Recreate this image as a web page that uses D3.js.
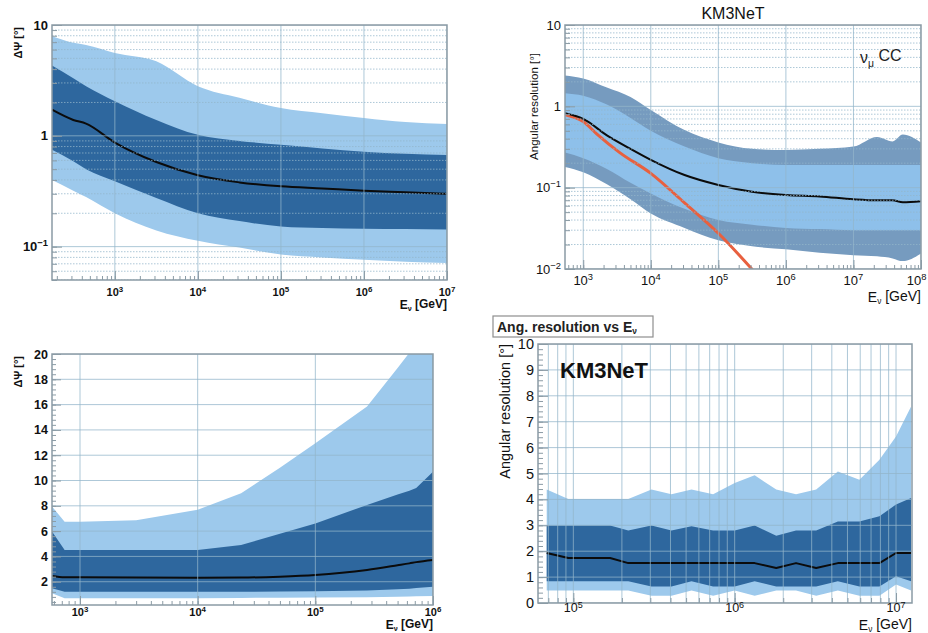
<!DOCTYPE html>
<html><head><meta charset="utf-8">
<script src="https://cdn.jsdelivr.net/npm/d3@7"></script>
<style>body{margin:0;background:#fff}svg text{font-family:"Liberation Sans",Arial,sans-serif}</style>
</head><body>
<svg id="c" width="928" height="633"></svg>
<script>
// ---------- Panel 1 (top-left) ----------
const p1Energy   = [175, 316, 450, 1000, 3160, 1e4, 3.16e4, 1e5, 3.16e5, 1e6, 3.16e6, 1e7];
const p1Median   = [1.72, 1.39, 1.29, 0.87, 0.58, 0.44, 0.38, 0.35, 0.335, 0.32, 0.31, 0.30];
const p1DarkHi   = [4.3, 3.3, 2.8, 2.05, 1.39, 1.02, 0.9, 0.83, 0.77, 0.72, 0.69, 0.67];
const p1DarkLo   = [0.75, 0.59, 0.5, 0.39, 0.275, 0.2, 0.17, 0.152, 0.147, 0.145, 0.144, 0.143];
const p1LightHi  = [7.9, 6.9, 6.6, 5.6, 4.7, 2.8, 2.2, 1.78, 1.6, 1.45, 1.33, 1.28];
const p1LightLo  = [0.40, 0.32, 0.28, 0.20, 0.14, 0.113, 0.098, 0.085, 0.08, 0.076, 0.073, 0.071];
const p1XTicks   = [3, 4, 5, 6, 7];
const p1YTicks   = [{v:10, t:"10"}, {v:1, t:"1"}, {v:0.1, t:"10", e:"−1"}];

// ---------- Panel 2 (top-right) ----------
const p2Energy   = [537, 1000, 2240, 5010, 1e4, 3.16e4, 1e5, 3.16e5, 1e6, 3.16e6, 1e7, 2.24e7, 3.8e7, 5.37e7, 1e8];
const p2OuterHi  = [2.4, 2.2, 1.7, 1.3, 0.9, 0.51, 0.36, 0.30, 0.29, 0.30, 0.32, 0.42, 0.37, 0.45, 0.36];
const p2InnerHi  = [1.45, 1.35, 1.05, 0.72, 0.5, 0.32, 0.23, 0.20, 0.19, 0.19, 0.19, 0.19, 0.19, 0.19, 0.19];
const p2Median   = [0.82, 0.70, 0.44, 0.30, 0.22, 0.143, 0.108, 0.089, 0.081, 0.078, 0.072, 0.070, 0.070, 0.066, 0.068];
const p2InnerLo  = [0.27, 0.23, 0.17, 0.115, 0.085, 0.055, 0.04, 0.035, 0.032, 0.031, 0.03, 0.03, 0.03, 0.03, 0.03];
const p2OuterLo  = [0.18, 0.155, 0.11, 0.072, 0.048, 0.032, 0.0225, 0.019, 0.0175, 0.0158, 0.0148, 0.0143, 0.0135, 0.0125, 0.0155];
const p2RedEnergy= [537, 1000, 1580, 3470, 1e4, 3.16e4, 1e5, 3.2e5];
const p2Red      = [0.79, 0.65, 0.46, 0.27, 0.15, 0.065, 0.0275, 0.0098];
const p2XTicks   = [3, 4, 5, 6, 7, 8];
const p2YTicks   = [{v:10, t:"10"}, {v:1, t:"1"}, {v:0.1, t:"10", e:"−1"}, {v:0.01, t:"10", e:"−2"}];

// ---------- Panel 3 (bottom-left) ----------
const p3Energy   = [578, 740, 1000, 3000, 1e4, 2.34e4, 5e4, 1e5, 2.75e5, 5e5, 6.3e5, 7.2e5, 1e6];
const p3LightHi  = [7.94, 6.75, 6.75, 6.85, 7.68, 9.0, 11.0, 12.95, 15.86, 18.9, 20.1, 21.2, 23];
const p3DarkHi   = [5.96, 4.5, 4.5, 4.5, 4.5, 4.9, 5.8, 6.6, 8.07, 8.9, 9.2, 9.4, 10.7];
const p3Median   = [2.45, 2.35, 2.35, 2.33, 2.32, 2.33, 2.4, 2.53, 2.93, 3.3, 3.45, 3.55, 3.72];
const p3DarkLo   = [1.48, 1.2, 1.2, 1.2, 1.2, 1.2, 1.22, 1.25, 1.3, 1.4, 1.45, 1.5, 1.6];
const p3LightLo  = [1.08, 0.69, 0.69, 0.7, 0.7, 0.72, 0.73, 0.75, 0.78, 0.82, 0.84, 0.85, 0.87];
const p3XTicks   = [3, 4, 5, 6];
const p3YTicks   = [2, 4, 6, 8, 10, 12, 14, 16, 18, 20];

// ---------- Panel 4 (bottom-right) ----------
const p4Energy   = [6.84e4, 9.31e4, 1.69e5, 2.19e5, 3.05e5, 4.06e5, 5.40e5, 7.35e5, 1e6, 1.33e6, 1.81e6, 2.40e6, 3.20e6, 4.36e6, 5.93e6, 7.89e6, 1e7, 1.24e7];
const p4LightHi  = [4.38, 4.02, 4.02, 4.02, 4.38, 4.2, 4.38, 4.2, 4.63, 4.93, 4.38, 4.2, 4.38, 5.08, 4.76, 5.53, 6.43, 7.59];
const p4DarkHi   = [2.99, 2.99, 2.99, 2.8, 2.99, 2.8, 2.96, 2.8, 2.8, 2.99, 2.6, 2.8, 2.8, 3.15, 3.15, 3.35, 3.8, 4.05];
const p4Median   = [1.93, 1.74, 1.74, 1.54, 1.54, 1.54, 1.54, 1.54, 1.54, 1.54, 1.35, 1.54, 1.35, 1.54, 1.54, 1.54, 1.93, 1.93];
const p4DarkLo   = [0.84, 0.84, 0.84, 0.84, 0.64, 0.64, 0.84, 0.64, 0.64, 0.84, 0.64, 0.64, 0.64, 0.84, 0.64, 0.64, 1.03, 0.84];
const p4LightLo  = [0.48, 0.48, 0.48, 0.48, 0.28, 0.28, 0.48, 0.28, 0.48, 0.28, 0.48, 0.48, 0.28, 0.48, 0.28, 0.28, 0.71, 0.48];
const p4XTicks   = [5, 6, 7];
const p4YTicks   = [0, 1, 2, 3, 4, 5, 6, 7, 8, 9, 10];

// ---------- styles ----------
const LIGHT = "#9dc9ec", DARK = "#2e679e";
const P2OUTER = "#769bbf", P2INNER = "#8ec0ea";
const FRAME = "#8b9ba5", GRID = "#93b6cb";

const svg = d3.select("#c");
let clipN = 0;

function makePanel(c){
  const x = d3.scaleLog().domain(c.xDomain).range([c.left, c.right]);
  const y = (c.yLog ? d3.scaleLog() : d3.scaleLinear()).domain(c.yDomain).range([c.bottom, c.top]);
  const id = "clip" + (clipN++);
  svg.append("clipPath").attr("id", id).append("rect")
    .attr("x", c.left).attr("y", c.top).attr("width", c.right - c.left).attr("height", c.bottom - c.top);
  const g = svg.append("g");
  const plot = g.append("g").attr("clip-path", `url(#${id})`);
  return Object.assign({}, c, {x, y, g, plot});
}
function logVals(domain, majorOnly){
  const out = [];
  const a = Math.floor(Math.log10(domain[0])), b = Math.ceil(Math.log10(domain[1]));
  for (let k = a; k <= b; k++) for (let m = 1; m < 10; m++){
    if (majorOnly && m !== 1) continue;
    const v = m * Math.pow(10, k);
    if (v >= domain[0] * 0.999 && v <= domain[1] * 1.001) out.push(v);
  }
  return out;
}
function band(p, E, lo, hi, color, curve){
  const data = E.map((e, i) => ({e, lo: lo[i], hi: hi[i]}));
  p.plot.append("path").datum(data).attr("fill", color)
    .attr("d", d3.area().x(d => p.x(d.e)).y0(d => p.y(d.lo)).y1(d => p.y(d.hi)).curve(curve));
}
function line(p, E, v, color, w, curve){
  const data = E.map((e, i) => ({e, v: v[i]}));
  p.plot.append("path").datum(data).attr("fill", "none").attr("stroke", color)
    .attr("stroke-width", w).attr("stroke-linejoin", "round")
    .attr("d", d3.line().x(d => p.x(d.e)).y(d => p.y(d.v)).curve(curve));
}
function vGrid(p, vals, dashed){
  p.plot.append("g").selectAll("line").data(vals).join("line")
    .attr("x1", d => p.x(d)).attr("x2", d => p.x(d)).attr("y1", p.top).attr("y2", p.bottom)
    .attr("stroke", GRID).attr("stroke-width", 1).attr("opacity", 0.75)
    .attr("stroke-dasharray", dashed ? "1.5,1.5" : null);
}
function hGrid(p, vals, dashed){
  p.plot.append("g").selectAll("line").data(vals).join("line")
    .attr("y1", d => p.y(d)).attr("y2", d => p.y(d)).attr("x1", p.left).attr("x2", p.right)
    .attr("stroke", GRID).attr("stroke-width", 1).attr("opacity", 0.75)
    .attr("stroke-dasharray", dashed ? "1.5,1.5" : null);
}
function frame(p){
  p.g.append("rect").attr("x", p.left).attr("y", p.top)
    .attr("width", p.right - p.left).attr("height", p.bottom - p.top)
    .attr("fill", "none").attr("stroke", FRAME).attr("stroke-width", 1.5);
}
function ticks(p, axisFn, scale, vals, size, pos){
  const a = axisFn(scale).tickValues(vals).tickSize(-size).tickFormat("");
  const gg = p.g.append("g").attr("transform", pos).call(a);
  gg.select(".domain").remove();
  gg.selectAll("line").attr("stroke", FRAME).attr("stroke-width", 1);
}
function powLabel(sel, base, exp, supScale){
  sel.append("tspan").text(base);
  if (exp !== undefined) sel.append("tspan").attr("dy", "-0.5em").attr("font-size", (supScale || 0.72) + "em").text(exp);
}
function xPowLabels(p, exps, yBase, size, weight, maxRight){
  exps.forEach(k => {
    let cx = p.x(Math.pow(10, k));
    const halfW = size * 0.8;
    if (maxRight !== undefined && cx + halfW > maxRight) cx = maxRight - halfW;
    const t = p.g.append("text").attr("x", cx).attr("y", yBase)
      .attr("text-anchor", "middle").attr("font-size", size).attr("font-weight", weight).attr("fill", "#111");
    powLabel(t, "10", String(k));
  });
}
function energyTitle(p, yBase, size, weight){
  const t = p.g.append("text").attr("x", p.right).attr("y", yBase).attr("text-anchor", "end")
    .attr("font-size", size).attr("font-weight", weight).attr("fill", "#111");
  t.append("tspan").text("E");
  t.append("tspan").attr("dy", "0.25em").attr("font-size", "0.6em").text("ν");
  t.append("tspan").attr("dy", "-0.25em").text(" [GeV]");
}
function yTitle(x, y, txt, size, weight){
  svg.append("text").attr("transform", `translate(${x},${y}) rotate(-90)`).attr("text-anchor", "end")
    .attr("font-size", size).attr("font-weight", weight).attr("fill", "#111").text(txt);
}

// ===== Panel 1 =====
{
  const p = makePanel({left:52, right:447, top:25, bottom:280, xDomain:[175, 1e7], yDomain:[0.05, 10], yLog:true});
  const cv = d3.curveMonotoneX;
  band(p, p1Energy, p1LightLo, p1LightHi, LIGHT, cv);
  band(p, p1Energy, p1DarkLo, p1DarkHi, DARK, cv);
  line(p, p1Energy, p1Median, "#0b0b0b", 2, cv);
  vGrid(p, logVals(p.xDomain, true), false);
  hGrid(p, logVals(p.yDomain, false).filter(v => !logVals(p.yDomain, true).includes(v)), true);
  hGrid(p, logVals(p.yDomain, true), false);
  frame(p);
  ticks(p, d3.axisBottom, p.x, logVals(p.xDomain, false), 4, `translate(0,${p.bottom})`);
  ticks(p, d3.axisBottom, p.x, logVals(p.xDomain, true), 9, `translate(0,${p.bottom})`);
  ticks(p, d3.axisLeft, p.y, logVals(p.yDomain, false), 5, `translate(${p.left},0)`);
  ticks(p, d3.axisLeft, p.y, logVals(p.yDomain, true), 10, `translate(${p.left},0)`);
  xPowLabels(p, p1XTicks, 296, 11, "bold");
  p1YTicks.forEach(d => {
    const t = p.g.append("text").attr("x", 48).attr("y", p.y(d.v) + 4.5).attr("text-anchor", "end")
      .attr("font-size", 13).attr("font-weight", "bold").attr("fill", "#111");
    powLabel(t, d.t, d.e);
  });
  energyTitle(p, 309, 12, "bold");
  yTitle(22, 27, "ΔΨ [°]", 11, "bold");
}

// ===== Panel 2 =====
{
  const p = makePanel({left:565, right:921, top:25, bottom:269, xDomain:[537, 1e8], yDomain:[0.01, 10], yLog:true});
  const cv = d3.curveMonotoneX;
  band(p, p2Energy, p2OuterLo, p2OuterHi, P2OUTER, cv);
  band(p, p2Energy, p2InnerLo, p2InnerHi, P2INNER, cv);
  line(p, p2RedEnergy, p2Red, "#e8603f", 3, cv);
  line(p, p2Energy, p2Median, "#0b0b0b", 2, cv);
  vGrid(p, logVals(p.xDomain, true), false);
  hGrid(p, logVals(p.yDomain, false).filter(v => !logVals(p.yDomain, true).includes(v)), true);
  hGrid(p, logVals(p.yDomain, true), false);
  frame(p);
  ticks(p, d3.axisBottom, p.x, logVals(p.xDomain, false), 4, `translate(0,${p.bottom})`);
  ticks(p, d3.axisBottom, p.x, logVals(p.xDomain, true), 9, `translate(0,${p.bottom})`);
  ticks(p, d3.axisLeft, p.y, logVals(p.yDomain, false), 5, `translate(${p.left},0)`);
  ticks(p, d3.axisLeft, p.y, logVals(p.yDomain, true), 10, `translate(${p.left},0)`);
  xPowLabels(p, p2XTicks, 285, 13, "normal", 927);
  p2YTicks.forEach(d => {
    const t = p.g.append("text").attr("x", 561).attr("y", p.y(d.v) + 4.5).attr("text-anchor", "end")
      .attr("font-size", 13).attr("fill", "#111");
    powLabel(t, d.t, d.e);
  });
  energyTitle(p, 302, 14, "normal");
  yTitle(538, 53, "Angular resolution [°]", 11.5, "normal");
  svg.append("text").attr("x", 733).attr("y", 19).attr("text-anchor", "middle")
    .attr("font-size", 16).attr("fill", "#111").text("KM3NeT");
  const nu = svg.append("text").attr("x", 860).attr("y", 63).attr("font-size", 16).attr("fill", "#222");
  nu.append("tspan").text("ν");
  nu.append("tspan").attr("dy", "0.35em").attr("font-size", "0.65em").text("μ");
  nu.append("tspan").attr("dy", "-0.35em").text(" CC");
}

// ===== Panel 3 =====
{
  const p = makePanel({left:52, right:433, top:354, bottom:605, xDomain:[578, 1e6], yDomain:[0.16, 20], yLog:false});
  const cv = d3.curveMonotoneX;
  band(p, p3Energy, p3LightLo, p3LightHi, LIGHT, d3.curveLinear);
  band(p, p3Energy, p3DarkLo, p3DarkHi, DARK, d3.curveLinear);
  line(p, p3Energy, p3Median, "#0b0b0b", 2, cv);
  vGrid(p, logVals(p.xDomain, true), false);
  hGrid(p, p3YTicks, false);
  frame(p);
  ticks(p, d3.axisBottom, p.x, logVals(p.xDomain, false), 4, `translate(0,${p.bottom})`);
  ticks(p, d3.axisBottom, p.x, logVals(p.xDomain, true), 9, `translate(0,${p.bottom})`);
  ticks(p, d3.axisLeft, p.y, d3.range(0.4, 20.01, 0.4), 4, `translate(${p.left},0)`);
  ticks(p, d3.axisLeft, p.y, p3YTicks, 9, `translate(${p.left},0)`);
  xPowLabels(p, p3XTicks, 616, 11, "bold");
  p3YTicks.forEach(v => {
    p.g.append("text").attr("x", 48).attr("y", p.y(v) + 4.5).attr("text-anchor", "end")
      .attr("font-size", 12.5).attr("font-weight", "bold").attr("fill", "#111").text(v);
  });
  energyTitle(p, 629, 12, "bold");
  yTitle(22, 356, "ΔΨ [°]", 11, "bold");
}

// ===== Panel 4 =====
{
  const p = makePanel({left:538, right:912, top:344, bottom:603, xDomain:[6.04e4, 1.256e7], yDomain:[0, 10], yLog:false});
  const cv = d3.curveLinear;
  band(p, p4Energy, p4LightLo, p4LightHi, LIGHT, cv);
  band(p, p4Energy, p4DarkLo, p4DarkHi, DARK, cv);
  line(p, p4Energy, p4Median, "#0b0b0b", 2, cv);
  vGrid(p, logVals(p.xDomain, false), false);
  hGrid(p, p4YTicks, false);
  frame(p);
  ticks(p, d3.axisBottom, p.x, logVals(p.xDomain, false), 5, `translate(0,${p.bottom})`);
  ticks(p, d3.axisBottom, p.x, logVals(p.xDomain, true), 10, `translate(0,${p.bottom})`);
  ticks(p, d3.axisLeft, p.y, d3.range(0, 10.01, 0.2), 5, `translate(${p.left},0)`);
  ticks(p, d3.axisLeft, p.y, p4YTicks, 10, `translate(${p.left},0)`);
  xPowLabels(p, p4XTicks, 612, 12.5, "normal");
  p4YTicks.forEach(v => {
    p.g.append("text").attr("x", 534).attr("y", p.y(v) + 5).attr("text-anchor", "end")
      .attr("font-size", 14.5).attr("fill", "#111").text(v);
  });
  energyTitle(p, 630, 14, "normal");
  yTitle(510, 344, "Angular resolution [°]", 14.5, "normal");
  svg.append("text").attr("x", 560).attr("y", 378).attr("font-size", 22).attr("font-weight", "bold")
    .attr("fill", "#111").text("KM3NeT");
  svg.append("rect").attr("x", 493).attr("y", 316).attr("width", 160).attr("height", 21)
    .attr("fill", "#fff").attr("stroke", "#8e8e8e").attr("stroke-width", 1.2);
  const t = svg.append("text").attr("x", 497).attr("y", 331.5).attr("font-size", 14)
    .attr("font-weight", "bold").attr("fill", "#222");
  t.append("tspan").text("Ang. resolution vs E");
  t.append("tspan").attr("dy", "0.3em").attr("font-size", "0.6em").text("ν");
}
</script>
</body></html>
